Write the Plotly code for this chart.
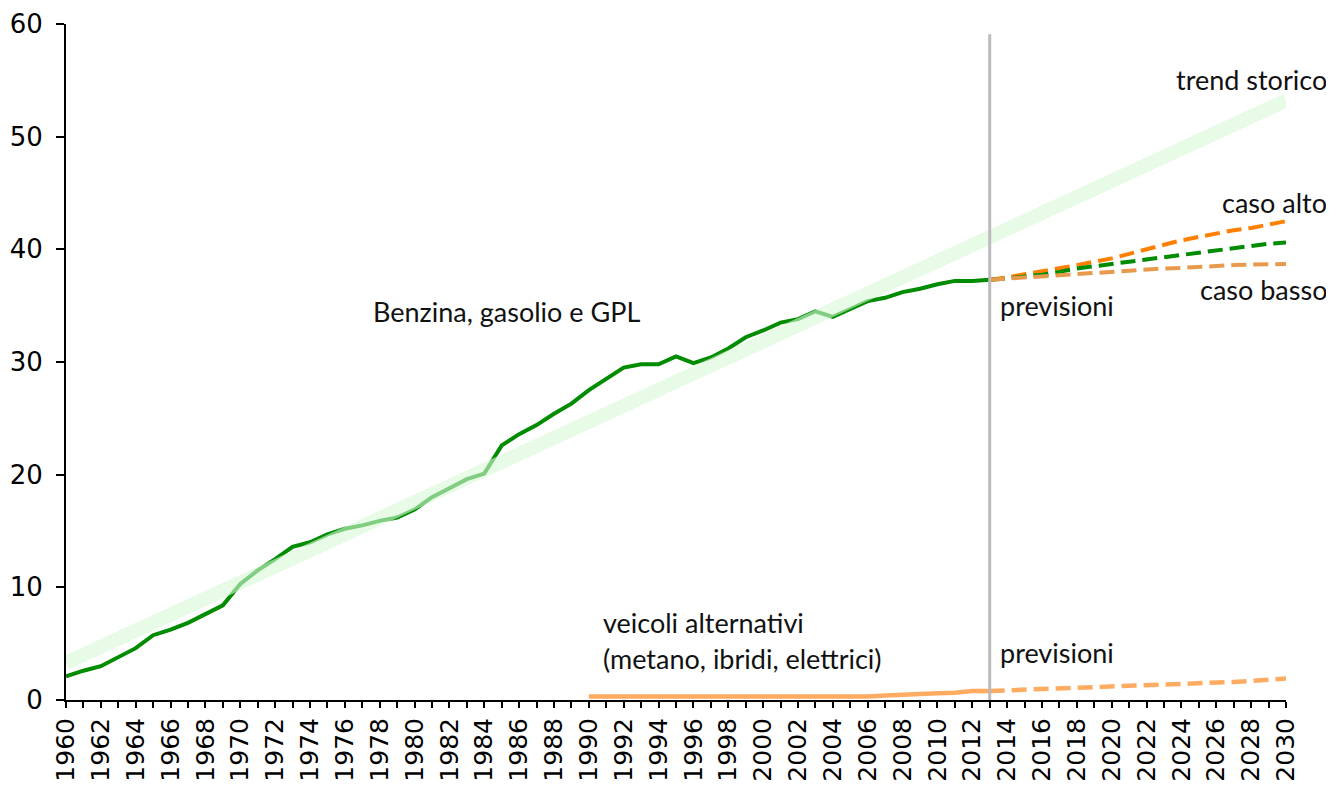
import plotly.graph_objects as go

# --- data ---
hist_years = list(range(1960, 2014))
benzina_hist = [2.1, 2.6, 3.0, 3.8, 4.6, 5.75, 6.25, 6.85, 7.6, 8.4,
                10.3, 11.5, 12.5, 13.6, 14.0, 14.7, 15.2, 15.5, 15.9, 16.2,
                16.9, 18.0, 18.8, 19.6, 20.1, 22.6, 23.6, 24.4, 25.4, 26.3,
                27.5, 28.5, 29.5, 29.8, 29.8, 30.5, 29.9, 30.4, 31.2, 32.2,
                32.8, 33.5, 33.8, 34.5, 34.0, 34.7, 35.4, 35.7, 36.2, 36.5,
                36.9, 37.2, 37.2, 37.3]

fc_years = list(range(2013, 2031))
caso_alto = [37.3, 37.5, 37.8, 38.05, 38.35, 38.6, 38.9, 39.2, 39.6, 40.0,
             40.4, 40.8, 41.1, 41.4, 41.7, 41.9, 42.2, 42.5]
caso_medio = [37.3, 37.4, 37.6, 37.75, 38.0, 38.3, 38.5, 38.7, 38.9, 39.1,
              39.3, 39.5, 39.7, 39.9, 40.1, 40.3, 40.5, 40.6]
caso_basso = [37.3, 37.4, 37.5, 37.6, 37.7, 37.8, 37.95, 38.05, 38.1, 38.2,
              38.3, 38.35, 38.45, 38.55, 38.6, 38.65, 38.7, 38.7]

alt_years = list(range(1990, 2014))
alt_hist = [0.3] * 17 + [0.4, 0.5, 0.6, 0.6, 0.65, 0.8, 0.8]
alt_fc = [0.8, 0.85, 0.9, 0.95, 1.0, 1.05, 1.1, 1.15, 1.2, 1.25,
          1.3, 1.35, 1.4, 1.5, 1.6, 1.7, 1.8, 1.9]

trend_years = [1960, 2030]
trend_values = [3.3, 53.2]

x_ticks = list(range(1960, 2031))
x_ticktext = [str(y) if y % 2 == 0 else "" for y in x_ticks]
y_ticks = [0, 10, 20, 30, 40, 50, 60]

GREEN = "#008c00"
ORANGE = "#ff8000"
BASSO = "#e89a4c"
ALT = "#ffac62"

fig = go.Figure()

fig.add_trace(go.Scatter(x=alt_years, y=alt_hist, mode="lines",
                         line=dict(color=ALT, width=4.5)))
fig.add_trace(go.Scatter(x=fc_years, y=alt_fc, mode="lines",
                         line=dict(color=ALT, width=4.5, dash="15px,7px")))
fig.add_trace(go.Scatter(x=hist_years, y=benzina_hist, mode="lines",
                         line=dict(color=GREEN, width=4)))
fig.add_trace(go.Scatter(x=fc_years, y=caso_alto, mode="lines",
                         line=dict(color=ORANGE, width=4, dash="15px,7px")))
fig.add_trace(go.Scatter(x=fc_years, y=caso_medio, mode="lines",
                         line=dict(color=GREEN, width=4, dash="15px,7px")))
fig.add_trace(go.Scatter(x=fc_years, y=caso_basso, mode="lines",
                         line=dict(color=BASSO, width=4, dash="15px,7px")))
fig.add_trace(go.Scatter(x=trend_years, y=trend_values, mode="lines",
                         line=dict(color="rgba(215,248,215,0.6)", width=14)))

fig.add_shape(type="line", xref="x", yref="y", x0=2013, x1=2013, y0=0, y1=59.1,
              line=dict(color="#bbbbbb", width=3), layer="above")

FONT = "Lato, 'Open Sans', sans-serif"
ann_font = dict(family=FONT, size=27, color="#111111")

def ann(text, x, y, xanchor="left", xref="x"):
    fig.add_annotation(text=text, x=x, y=y, xref=xref, yref="y", xanchor=xanchor,
                       yanchor="middle", showarrow=False, font=ann_font)

ann("Benzina, gasolio e GPL", 1985.3, 34.5, xanchor="center")
ann("trend storico", 1.035, 55.1, xanchor="right", xref="paper")
ann("caso alto", 1.035, 44.2, xanchor="right", xref="paper")
ann("caso basso", 1.035, 36.4, xanchor="right", xref="paper")
ann("previsioni", 2013.5, 35.0)
ann("previsioni", 2013.5, 4.2)
ann("veicoli alternativi", 1990.7, 6.9)
ann("(metano, ibridi, elettrici)", 1990.7, 3.7)

fig.update_layout(
    width=1326, height=777,
    margin=dict(l=58, r=48, t=16, b=85),
    paper_bgcolor="white", plot_bgcolor="white",
    showlegend=False,
    xaxis=dict(range=[1960, 2030], tickmode="array", tickvals=x_ticks,
               ticktext=x_ticktext, tickangle=-90, ticks="outside", ticklen=6,
               tickwidth=1.5, tickcolor="black", showline=True, linecolor="black",
               linewidth=2, showgrid=False, zeroline=False, automargin=False,
               ticklabeloverflow="allow",
               tickfont=dict(family="DejaVu Sans", size=25, color="black")),
    yaxis=dict(range=[0, 60], tickmode="array", tickvals=y_ticks,
               ticks="outside", ticklen=8, tickwidth=1.5, tickcolor="black",
               showline=True, linecolor="black", linewidth=2, showgrid=False,
               zeroline=False, automargin=False, ticklabelstandoff=8,
               ticklabeloverflow="allow",
               tickfont=dict(family="DejaVu Sans", size=26, color="black")),
)

fig.write_html("out.html")
